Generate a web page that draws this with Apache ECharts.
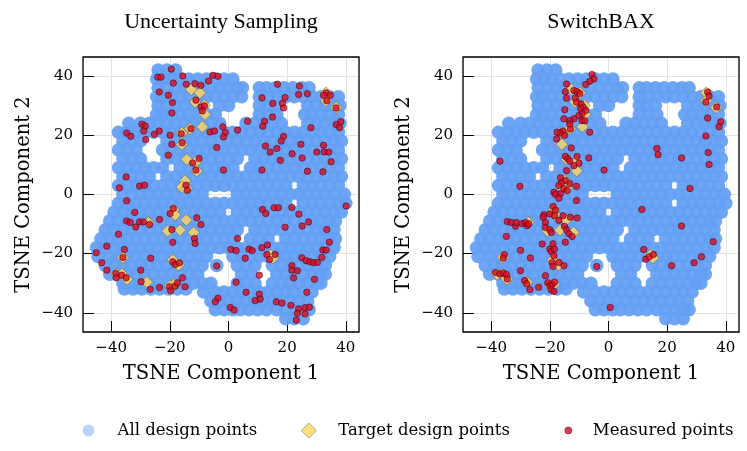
<!DOCTYPE html>
<html>
<head>
<meta charset="utf-8">
<script src="https://cdn.jsdelivr.net/npm/echarts@6/dist/echarts.min.js"></script>
<style>
  html, body { margin: 0; padding: 0; background: #fff; }
  #chart { width: 747px; height: 451px; }
</style>
</head>
<body>
<div id="chart"></div>
<script>
// t-SNE cloud of all design points (same cloud in both panels)
var cloudRowY = [42, 39, 36, 33, 30, 27, 24, 21, 18, 15, 12, 9, 6, 3, 0, -3, -6, -9, -12, -15, -18, -21, -24, -27, -30, -32, -33, -36, -39, -42];
var cloudRowX = [
  [-24, -21, -18],
  [-24.5, -22, -19.5, -16.5, -13.5, -10.5, -7.5, -4.5, -1.5, 1.5],
  [-24, -21, -18, -15, -12, -9, -6, -3, 0, 3, 4.8, 10.5, 13, 16, 19, 22, 25, 27.5],
  [-24.5, -22.5, -19.5, -16.5, -13.5, -10.5, -7.5, -4.5, -1.5, 1.5, 4.5, 10.5, 13.5, 16.5, 19.5, 22.5, 25.5, 28.5, 31.5, 34.5, 37.5],
  [-24, -21, -18, -15, -12, -9, -3, 0, 10.5, 13, 16, 27, 30, 33, 36, 38],
  [-24.5, -22.5, -19.5, -16.5, -13.5, -10.5, -7.5, -4.5, 10.5, 13.5, 16.5, 26, 28.5, 31.5, 34.5, 37.5],
  [-34, -30, -27, -24, -21, -18, -15, -12, -9, -6, -3, 6, 9, 12, 15, 18, 27, 30, 33, 36, 38],
  [-37.5, -34.5, -31.5, -28.5, -25.5, -22.5, -19.5, -16.5, -13.5, -10.5, -7.5, -4.5, -1.5, 1.5, 4.5, 7.5, 10.5, 13.5, 16.5, 19.5, 22.5, 25.5, 28.5, 31.5, 34.5, 37.5],
  [-36, -33, -30, -21, -18, -15, -12, -9, -6, -3, 0, 3, 6, 9, 12, 15, 18, 21, 24, 27, 30, 33, 36, 38.5],
  [-37.5, -34.5, -31.5, -22.5, -19.5, -16.5, -13.5, -10.5, -7.5, -4.5, -1.5, 1.5, 4.5, 7.5, 10.5, 13.5, 16.5, 19.5, 22.5, 25.5, 28.5, 31.5, 34.5, 37.5],
  [-36, -33, -30, -21, -18, -15, -12, -9, -6, -3, 0, 3, 9, 12, 15, 18, 21, 24, 27, 30, 33, 36, 38.5],
  [-37.5, -34.5, -31.5, -28.5, -25.5, -22.5, -16.5, -13.5, -10.5, -7.5, -4.5, -1.5, 1.5, 7.5, 10.5, 13.5, 16.5, 19.5, 22.5, 25.5, 28.5, 31.5, 34.5, 37.5],
  [-36, -33, -30, -27, -21, -18, -15, -12, -9, -6, -3, 0, 3, 6, 9, 12, 15, 18, 21, 24, 27, 30, 33, 36, 38.5],
  [-37.5, -34.5, -31.5, -28.5, -25.5, -22.5, -19.5, -16.5, -13.5, -10.5, -7.5, -4.5, -1.5, 1.5, 4.5, 7.5, 10.5, 13.5, 16.5, 19.5, 25.5, 28.5, 31.5, 34.5, 37.5],
  [-36, -33, -30, -27, -24, -21, -18, -15, -12, -9, 3, 6, 9, 12, 15, 18, 21, 24, 27, 30, 33, 36, 39.5],
  [-37.5, -34.5, -31.5, -28.5, -25.5, -22.5, -19.5, -16.5, -13.5, -10.5, -7.5, -4.5, -1.5, 1.5, 4.5, 7.5, 10.5, 13.5, 16.5, 19.5, 25.5, 28.5, 31.5, 34.5, 37.5, 40],
  [-39, -36, -33, -30, -27, -24, -21, -18, -15, -12, -9, -6, -3, 3, 6, 9, 12, 15, 18, 21, 24, 27, 30, 33, 36, 38.5],
  [-40.5, -37.5, -34.5, -31.5, -28.5, -25.5, -22.5, -19.5, -16.5, -13.5, -10.5, -7.5, -4.5, -1.5, 1.5, 4.5, 7.5, 10.5, 13.5, 16.5, 19.5, 22.5, 25.5, 28.5, 31.5, 34.5, 36.5],
  [-42, -39, -36, -33, -30, -27, -24, -21, -18, -15, -12, -9, -6, -3, 0, 3, 9, 12, 15, 18, 21, 24, 27, 30, 33, 36],
  [-43.5, -40.5, -37.5, -34.5, -31.5, -28.5, -25.5, -22.5, -19.5, -16.5, -13.5, -10.5, -7.5, -4.5, -1.5, 1.5, 7.5, 10.5, 13.5, 19.5, 22.5, 25.5, 28.5, 31.5, 34.5, 36.5],
  [-45, -42, -39, -36, -33, -30, -27, -24, -21, -18, -15, -12, -9, -6, -3, 0, 3, 6, 9, 12, 15, 18, 21, 24, 27, 30, 33, 36],
  [-44.5, -40.5, -37.5, -34.5, -31.5, -28.5, -25.5, -22.5, -19.5, -16.5, -13.5, -10.5, -7.5, 1.5, 4.5, 7.5, 10.5, 13.5, 16.5, 19.5, 22.5, 25.5, 28.5, 31.5, 34.5],
  [-42, -39, -36, -33, -30, -27, -24, -21, -18, -15, -12, -9, -4, 3, 6, 9, 15, 18, 21, 24, 27, 30, 33],
  [-40.5, -37.5, -34.5, -31.5, -28.5, -25.5, -22.5, -19.5, -16.5, -13.5, -10.5, 4.5, 7.5, 16.5, 19.5, 22.5, 25.5, 28.5, 31.5, 33],
  [-36, -33, -30, -27, -24, -21, -18, -15, -12, -9, -6, 3, 6, 9, 15, 18, 21, 24, 27, 30, 31.5],
  [-35.5, -32.5, -29.5, -26.5, -23.5, -20.5, -17.5, -14.5],
  [-8.5, -4.5, -1.5, 1.5, 4.5, 7.5, 10.5, 13.5, 16.5, 19.5, 22.5, 25.5, 28.5],
  [-6, -3, 0, 3, 6, 9, 12, 15, 18, 21, 24, 27],
  [-4.5, -1.5, 1.5, 4, 7, 10, 13, 16.5, 19.5, 22.5, 25.5, 27.5],
  [19.5, 22.5, 25.5]
];

// target design points (same in both panels)
var targetPts = [
  [-12.7, 35.4], [-9.7, 34.3], [-11.4, 31.2], [-8.2, 30.1], [-8.0, 27.0], [-8.9, 22.8], [-13.1, 22.2],
  [-15.9, 20.7], [-15.9, 16.9], [-14.2, 11.8], [-11.1, 11.0], [-10.8, 7.9], [-14.8, 4.6], [-15.9, 2.5],
  [-14.2, 2.0], [-18.7, -5.3], [-18.2, -7.0], [-14.4, -8.7], [-16.5, -12.1], [-20.8, -12.4], [-11.9, -12.9],
  [-27.3, -9.5], [-36.0, -21.3], [-19.0, -22.2], [-17.0, -23.9], [-38.0, -27.0], [-36.3, -26.9],
  [-34.6, -28.7], [-27.8, -29.7], [-19.9, -30.9], [-18.5, -30.4], [33.3, 34.3], [33.3, 31.6], [36.7, 29.3],
  [14.4, -20.5], [15.2, -21.5]
];

// measured points, Uncertainty Sampling
var usMeasured = [
  [-19.5, 42.3], [-24.1, 39.6], [-23.0, 39.6], [-15.6, 40.0], [-18.8, 37.6], [-14.4, 37.2], [-11.4, 37.4],
  [-9.4, 36.8], [-6.8, 38.3], [-5.3, 40.2], [-3.6, 39.9], [-23.6, 34.6], [-20.5, 33.5], [-11.1, 31.8],
  [-19.1, 31.0], [-9.3, 29.5], [-8.2, 29.9], [-8.9, 28.2], [-19.3, 27.5], [-29.5, 23.7], [-28.4, 23.1],
  [-28.9, 21.4], [-34.7, 20.7], [-33.3, 19.6], [-28.2, 18.5], [-25.3, 20.3], [-23.6, 21.4], [-19.9, 20.0],
  [-16.1, 20.5], [-12.8, 22.2], [-15.8, 17.4], [-19.3, 16.9], [-6.3, 21.1], [-4.8, 21.4], [-1.9, 22.8],
  [-1.1, 20.9], [-1.7, 19.4], [-20.5, 13.2], [-10.0, 12.1], [-12.2, 10.6], [-11.1, 8.2], [-4.0, 15.8],
  [-34.9, 5.9], [-37.2, 2.2], [-30.3, 2.8], [-28.6, 3.1], [-14.5, 3.1], [-1.7, 8.2], [-14.0, 1.4],
  [16.7, 37.2], [24.2, 36.6], [11.4, 32.6], [15.1, 30.7], [19.3, 32.7], [18.4, 30.7], [18.8, 29.2],
  [23.9, 33.7], [26.9, 34.0], [33.3, 34.3], [34.7, 33.5], [32.4, 33.5], [33.5, 31.6], [36.7, 29.2],
  [38.3, 24.5], [36.7, 23.6], [37.9, 22.5], [6.5, 24.7], [3.1, 21.7], [12.3, 24.7], [11.7, 23.0],
  [15.0, 26.1], [28.1, 22.5], [18.8, 19.6], [18.0, 18.0], [12.6, 16.3], [14.2, 14.3], [16.5, 15.5],
  [17.7, 11.5], [21.7, 13.7], [24.7, 16.9], [25.1, 12.3], [32.4, 16.6], [30.1, 14.3], [32.6, 14.3],
  [34.2, 14.3], [35.0, 11.0], [11.4, 8.2], [26.9, 7.8], [32.2, 7.6],
  [-34.7, -2.2], [-32.0, -6.1], [-34.7, -9.0], [-33.5, -9.5], [-31.6, -11.0], [-30.3, -9.3], [-29.0, -9.3],
  [-26.9, -10.2], [-23.5, -8.5], [-37.5, -13.5], [-41.5, -17.5], [-35.5, -18.6], [-45.1, -19.7],
  [-43.2, -23.1], [-41.5, -25.6], [-36.0, -21.3], [-26.5, -21.6], [-19.0, -22.8], [-18.2, -23.7],
  [-16.7, -23.1], [-29.9, -25.6], [-38.4, -26.7], [-36.4, -27.3], [-38.3, -28.2], [-34.9, -28.2],
  [-29.8, -29.5], [-26.7, -32.1], [-23.5, -31.5], [-20.1, -31.2], [-19.7, -32.6], [-18.2, -31.0],
  [-17.4, -29.9], [-15.7, -28.2], [-14.8, -31.2], [-18.8, -4.8], [-19.9, -6.5], [-10.8, -7.9],
  [-9.4, -10.2], [-11.6, -14.9], [-11.4, -16.6], [-19.0, -16.2], [-4.0, -24.2], [-3.6, -35.1],
  [-4.5, -36.3], [-19.3, -11.9],
  [11.6, -5.1], [12.7, -6.5], [15.6, -4.5], [17.0, -4.5], [21.6, -4.4], [24.0, -6.7], [40.1, -3.9],
  [27.3, -9.3], [25.1, -10.7], [19.3, -11.1], [33.5, -11.9], [3.1, -14.9], [0.8, -18.6], [2.6, -19.0],
  [7.0, -18.5], [8.1, -19.0], [11.4, -18.0], [13.3, -17.1], [5.7, -21.6], [13.1, -20.3], [14.0, -22.0],
  [15.9, -20.3], [25.0, -21.4], [26.5, -22.4], [27.8, -22.8], [29.0, -23.1], [30.3, -23.0], [31.8, -21.3],
  [32.2, -18.8], [33.3, -18.8], [34.4, -16.2], [21.6, -24.1], [21.6, -25.6], [23.5, -25.8], [22.2, -28.2],
  [10.5, -27.3], [29.3, -28.7], [2.6, -29.7], [6.0, -33.1], [10.5, -33.7], [10.8, -35.4], [9.1, -35.9],
  [26.7, -33.1], [16.3, -36.3], [18.2, -36.7], [21.3, -37.5], [23.9, -38.7], [23.5, -40.2], [26.1, -38.3],
  [27.6, -38.1], [26.1, -40.4], [23.1, -42.5], [0.6, -38.2], [1.9, -39.1]
];

// measured points, SwitchBAX
var sbMeasured = [
  [-5.6, 40.5], [-5.0, 39.0], [-6.4, 38.2], [-7.8, 37.1], [-14.3, 37.3], [-14.7, 34.7], [-11.8, 35.1],
  [-10.7, 34.7], [-9.8, 34.1], [-11.3, 32.5], [-14.3, 32.5], [-10.9, 31.1], [-9.3, 30.5], [-8.6, 29.4],
  [-9.5, 28.9], [-7.8, 28.3], [-9.0, 27.2], [-14.9, 28.6], [-10.1, 26.6], [-11.8, 25.5], [-13.2, 24.9],
  [-15.2, 25.5], [-9.0, 24.9], [-8.1, 24.9], [-13.0, 22.1], [-13.2, 23.8], [-15.5, 21.3], [-16.4, 20.7],
  [-17.5, 21.0], [-17.7, 18.7], [-15.0, 19.9], [-6.4, 21.0], [-12.7, 15.7], [-37.0, 11.2], [-30.2, 2.7],
  [-14.7, 12.8], [-13.9, 12.0], [-13.2, 11.2], [-10.7, 12.8], [-10.1, 10.5], [-11.8, 9.7], [-14.3, 8.0],
  [-6.7, 12.3], [-1.5, 8.2], [-16.4, 5.6], [-14.7, 4.7], [-16.1, 3.8], [-16.9, 3.0], [-15.2, 1.9],
  [-13.2, 3.6], [-10.9, 2.7], [-18.6, 0.7], [-16.4, 0.2], [-14.1, 1.3],
  [33.8, 34.6], [34.3, 33.2], [33.2, 31.2], [36.9, 29.5], [33.8, 25.8], [38.3, 24.5], [37.7, 22.8],
  [33.2, 19.7], [34.0, 14.1], [34.3, 10.1], [16.5, 15.5], [16.9, 13.4], [24.9, 12.3], [27.8, 2.0],
  [11.4, -5.1], [24.9, -10.7], [35.7, -16.0], [31.7, -21.1], [29.2, -23.1], [21.5, -24.1], [12.0, -18.6],
  [12.7, -21.9], [13.9, -21.1], [15.3, -20.3], [-4.0, -24.4], [0.6, -38.2],
  [-18.1, 0.0], [-16.9, -1.3], [-10.9, -2.1], [-18.9, -4.1], [-18.1, -5.4], [-22.0, -6.9], [-22.3, -7.7],
  [-20.0, -6.6], [-18.4, -7.2], [-15.5, -7.2], [-16.9, -8.8], [-13.0, -7.7], [-10.7, -8.0], [-15.0, -10.8],
  [-14.3, -12.0], [-13.5, -13.3], [-12.4, -14.2], [-14.7, -16.2], [-34.5, -9.2], [-33.2, -9.5],
  [-31.7, -10.8], [-31.4, -9.5], [-29.4, -9.9], [-28.3, -9.5], [-27.7, -10.6], [-27.2, -9.9], [-21.5, -9.5],
  [-21.5, -11.2], [-20.0, -12.0], [-19.5, -12.9], [-34.8, -14.2], [-22.6, -16.8], [-20.0, -18.5],
  [-18.9, -16.7], [-19.5, -19.3], [-18.4, -18.5], [-18.6, -20.7], [-19.2, -23.0], [-16.9, -23.0],
  [-18.9, -24.3], [-30.0, -18.9], [-26.6, -21.5], [-35.5, -20.4], [-35.9, -21.5], [-15.2, -24.1],
  [-30.0, -25.8], [-38.5, -26.4], [-37.0, -26.9], [-35.9, -26.6], [-34.8, -27.1], [-34.5, -28.6],
  [-28.6, -29.1], [-27.9, -30.2], [-21.5, -27.5], [-20.7, -29.9], [-20.0, -30.9], [-19.2, -30.5],
  [-18.4, -29.7], [-19.5, -32.2], [-18.6, -32.8], [-23.8, -31.4], [-26.8, -32.2]
];

var panelTitles = ['Uncertainty Sampling', 'SwitchBAX'];
var seriesNames = ['All design points', 'Target design points', 'Measured points'];

var cloudPts = [];
cloudRowY.forEach(function (y, i) {
  cloudRowX[i].forEach(function (x) { cloudPts.push([x, y]); });
});

var SERIF = 'DejaVu Serif';
var gridLeft = [83, 463];
var GRID_TOP = 57, GRID_W = 276, GRID_H = 275;
var measured = [usMeasured, sbMeasured];

function minus(v) {
  return v < 0 ? '\u2212' + Math.abs(v) : String(v);
}

function mainAxis(i, isX) {
  return {
    gridIndex: i,
    type: 'value',
    min: isX ? -49.6 : -46.5,
    max: isX ? 44.5 : 46.4,
    name: isX ? 'TSNE Component 1' : 'TSNE Component 2',
    nameLocation: 'middle',
    nameGap: isX ? 32 : 49,
    nameTextStyle: { fontFamily: SERIF, fontSize: 19.5, color: '#000' },
    axisLine: { show: false, onZero: false },
    axisTick: { show: true, inside: true, length: 11, lineStyle: { color: '#000', width: 1 } },
    axisLabel: {
      showMinLabel: false, showMaxLabel: false, margin: isX ? 9 : 10,
      fontFamily: SERIF, fontSize: 15, color: '#000', formatter: minus
    },
    splitLine: { show: true, lineStyle: { color: '#e2e2e2', width: 1 } }
  };
}

var grids = [], xAxes = [], yAxes = [], titles = [], series = [], frames = [];
[0, 1].forEach(function (i) {
  grids.push({ left: gridLeft[i], top: GRID_TOP, width: GRID_W, height: GRID_H });
  xAxes.push(mainAxis(i, true));
  yAxes.push(mainAxis(i, false));
  titles.push({
    text: panelTitles[i], left: gridLeft[i] + GRID_W / 2, top: 11, textAlign: 'center', padding: 0,
    textStyle: { fontFamily: 'Liberation Serif', fontSize: 22, fontWeight: 'normal', color: '#000' }
  });
  // axes frame around each panel
  frames.push({
    type: 'rect', z: 100, silent: true,
    shape: { x: gridLeft[i], y: GRID_TOP, width: GRID_W, height: GRID_H },
    style: { fill: null, stroke: '#000', lineWidth: 1.3 }
  });
  series.push({
    name: seriesNames[0], type: 'scatter', xAxisIndex: i, yAxisIndex: i, z: 2,
    symbol: 'circle', symbolSize: 13.5, data: cloudPts, silent: true,
    itemStyle: { color: 'rgb(99,159,244)', opacity: 0.93 }
  });
  series.push({
    name: seriesNames[1], type: 'scatter', xAxisIndex: i, yAxisIndex: i, z: 3,
    symbol: 'diamond', symbolSize: 12, data: targetPts, silent: true,
    itemStyle: { color: '#ffd75e', borderColor: '#555', borderWidth: 0.6 }
  });
  series.push({
    name: seriesNames[2], type: 'scatter', xAxisIndex: i, yAxisIndex: i, z: 4,
    symbol: 'circle', symbolSize: 6.5, data: measured[i], silent: true,
    itemStyle: { color: '#d80a24', borderColor: '#3a0000', borderWidth: 0.6 }
  });
});

function legendAt(name, left, size, icon, style, pad) {
  return {
    data: [{ name: name, icon: icon, itemStyle: style }],
    left: left, top: 422, padding: 0,
    itemWidth: size, itemHeight: size, selectedMode: false,
    textStyle: { fontFamily: SERIF, fontSize: 16.5, color: '#000', padding: [0, 0, 0, pad] }
  };
}

var chart = echarts.init(document.getElementById('chart'), null, { renderer: 'canvas' });
chart.setOption({
  animation: false,
  backgroundColor: '#fff',
  title: titles,
  grid: grids,
  xAxis: xAxes,
  yAxis: yAxes,
  graphic: frames,
  legend: [
    legendAt(seriesNames[0], 82.5, 12, 'circle', { color: 'rgba(99,159,244,0.45)', opacity: 1 }, 18),
    legendAt(seriesNames[1], 301, 15, 'diamond', { color: '#ffd75e', borderColor: '#555', borderWidth: 0.6 }, 17),
    legendAt(seriesNames[2], 564.5, 7, 'circle', { color: '#d80a24', borderColor: '#3a0000', borderWidth: 0.6 }, 16)
  ],
  series: series
});
</script>
</body>
</html>
